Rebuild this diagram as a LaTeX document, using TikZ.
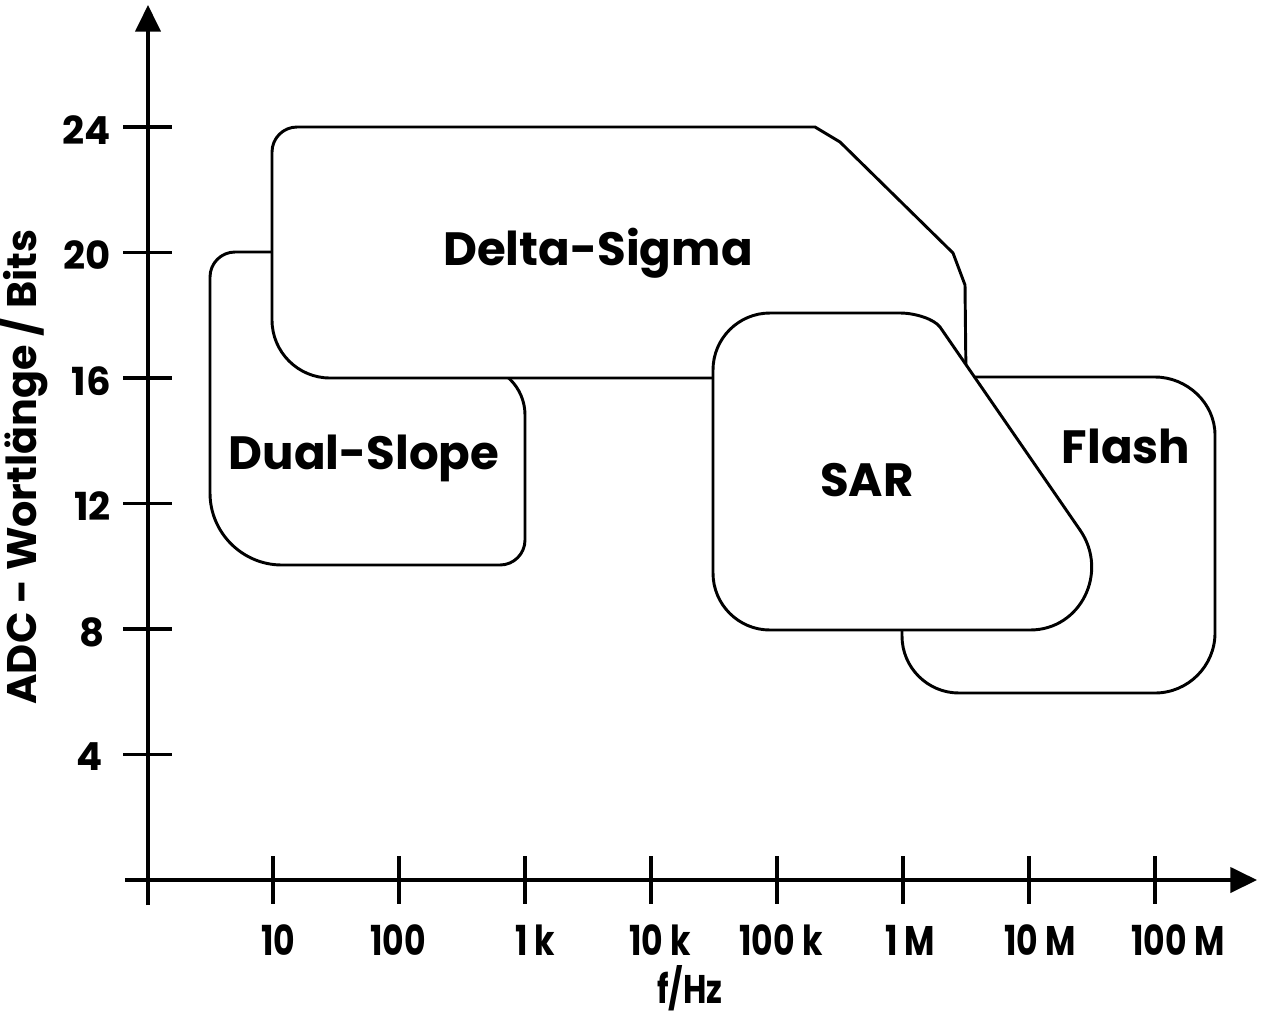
\documentclass[tikz,border=0pt]{standalone}
\usepackage{fontspec}
\setmainfont{Poppins}
\newfontfamily\narrowfont{Poppins}[FakeStretch=0.8]
\usetikzlibrary{arrows.meta}

\begin{document}
\begin{tikzpicture}[x=0.75pt,y=0.75pt,yscale=-1,xscale=1,
  axis/.style={line width=2.3pt},
  region/.style={line width=2.2pt,line join=round},
  lbl/.style={inner sep=0.75pt,font=\fontsize{35}{40}\selectfont\bfseries},
  ylbl/.style={inner sep=0.75pt,anchor=east,font=\fontsize{29}{32}\selectfont\bfseries},
  xlbl/.style={inner sep=0.75pt,font=\narrowfont\fontsize{31}{34}\selectfont\bfseries}]
\useasboundingbox (0,0) rectangle (1280,1018);

%Dual-Slope
\draw [region] (400,252) -- (235,252) .. controls (221.2,252) and (210,263.2) .. (210,277) -- (210,493) .. controls (210,532.7) and (242.3,565) .. (282,565) -- (500,565) .. controls (513.8,565) and (525,553.8) .. (525,540) -- (525,415) .. controls (525,387.4) and (502.6,365) .. (475,365) -- (400,365) -- cycle ;
%Flash
\draw [region] (920,377) -- (1155,377) .. controls (1187,377) and (1215,403) .. (1215,435) -- (1215,633) .. controls (1215,666) and (1188,693) .. (1155,693) -- (959,693) .. controls (927.5,693) and (902,667.5) .. (902,636) -- (902,600) -- cycle ;
%Delta-Sigma
\draw [region,fill=white] (272,152) .. controls (272,138.2) and (283.2,127) .. (297,127) -- (815,127) -- (840,142) -- (953,253) -- (965,285) -- (966,378) -- (330,378) .. controls (298,378) and (272,352) .. (272,320) -- cycle ;
%SAR
\draw [region,fill=white] (713,370) .. controls (713,338.5) and (738.5,313) .. (770,313) -- (900,313) .. controls (915,313) and (934,319) .. (940,327) -- (1080,530) .. controls (1109,572) and (1081,630) .. (1030,630) -- (770,630) .. controls (738.5,630) and (713,604.5) .. (713,573) -- cycle ;

%axes
\draw [axis,-{Triangle[length=20pt,width=19pt]}] (148,905) -- (148,5) ;
\draw [axis,-{Triangle[length=20pt,width=19pt]}] (125,880) -- (1257,880) ;

%ticks on f
\draw [axis] (273,856) -- (273,904) ;
\draw [axis] (399,856) -- (399,904) ;
\draw [axis] (525,856) -- (525,904) ;
\draw [axis] (651,856) -- (651,904) ;
\draw [axis] (777,856) -- (777,904) ;
\draw [axis] (903,856) -- (903,904) ;
\draw [axis] (1029,856) -- (1029,904) ;
\draw [axis] (1155,856) -- (1155,904) ;
%ticks on bits
\draw [axis] (123,127) -- (172,127) ;
\draw [axis] (123,252.5) -- (172,252.5) ;
\draw [axis] (123,378) -- (172,378) ;
\draw [axis] (123,503.5) -- (172,503.5) ;
\draw [axis] (123,629) -- (172,629) ;
\draw [axis] (123,754.5) -- (172,754.5) ;

\node [ylbl] (b24) at (112,130) {24};
\node [ylbl] (b20) at (112,255) {20};
\node [ylbl] (b16) at (112,381) {16};
\node [ylbl] (b12) at (112,506) {12};
\node [ylbl] (b8) at (106,632) {8};
\node [ylbl] (b4) at (104,757) {4};

\node [xlbl] (f10) at (278,940) {10};
\node [xlbl] (f100) at (398,940) {100};
\node [xlbl] (f1k) at (535,940) {1 k};
\node [xlbl] (f10k) at (660,940) {10 k};
\node [xlbl] (f100k) at (781,940) {100 k};
\node [xlbl] (f1M) at (910,940) {1 M};
\node [xlbl] (f10M) at (1040,940) {10 M};
\node [xlbl] (f100M) at (1178,940) {100 M};

\node [xlbl,font=\narrowfont\fontsize{30}{32}\selectfont\bfseries] (fhz) at (690,988) {f/Hz};
\node [inner sep=0.75pt,rotate=90,font=\fontsize{31}{34}\selectfont\bfseries] (wordlen) at (23,467) {ADC - Wortlänge / Bits};

\node [lbl] (deltasigma) at (598,253) {Delta-Sigma};
\node [lbl] (dualslope) at (364,458) {Dual-Slope};
\node [lbl] (sar) at (867,480) {SAR};
\node [lbl] (flash) at (1126,446) {Flash};
\end{tikzpicture}
\end{document}
